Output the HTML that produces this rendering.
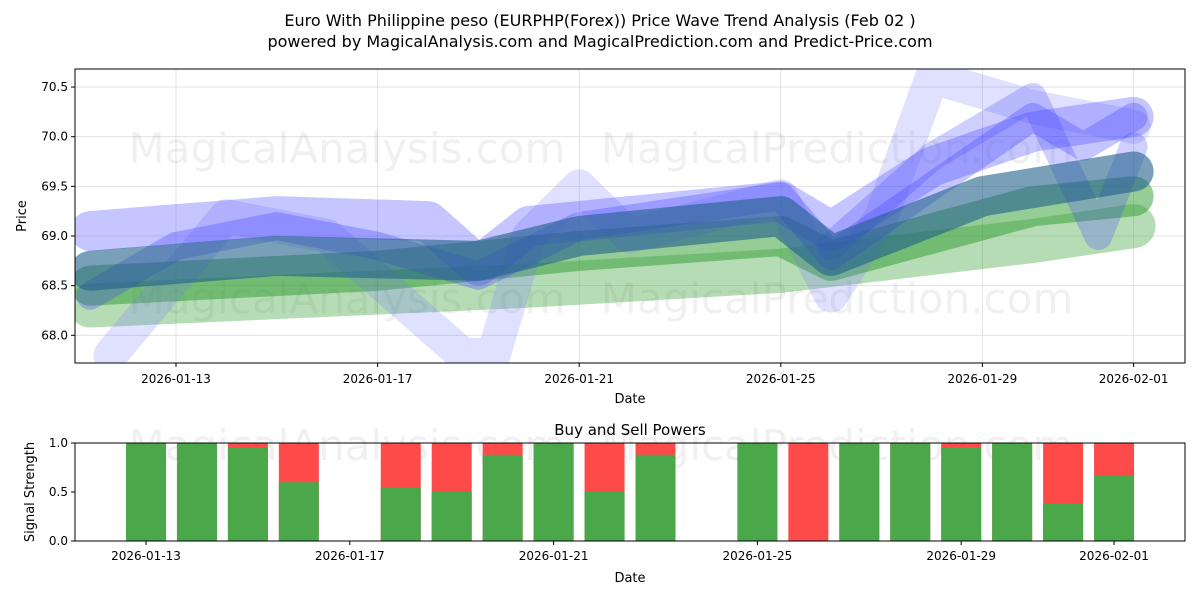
<!DOCTYPE html>
<html><head><meta charset="utf-8"><style>
body{margin:0;background:#fff;font-family:"Liberation Sans","DejaVu Sans",sans-serif}
svg text{font-family:"DejaVu Sans","Liberation Sans",sans-serif}
</style></head><body>
<svg id="c" width="1200" height="600" xmlns="http://www.w3.org/2000/svg">
<text x="600" y="26" text-anchor="middle" font-size="16">Euro With Philippine peso (EURPHP(Forex)) Price Wave Trend Analysis (Feb 02 )</text>
<text x="600" y="47" text-anchor="middle" font-size="16">powered by MagicalAnalysis.com and MagicalPrediction.com and Predict-Price.com</text>
<g id="topPanel"></g>
<g id="botPanel"></g>
</svg>
<script>
const tickDays=[13,17,21,25,29,32];
const tickLabels=["2026-01-13","2026-01-17","2026-01-21","2026-01-25","2026-01-29","2026-02-01"];
const priceTicks=[68.0,68.5,69.0,69.5,70.0,70.5];
const bandLightGreen=[[11.3,68.3],[20,68.5],[25,68.65],[30,68.95],[32,69.1]];
const bandGreen=[[11.3,68.5],[17,68.65],[21,68.85],[25,69.0],[26,68.75],[30,69.3],[32,69.4]];
const bandTeal=[[11.3,68.65],[15,68.8],[19,68.75],[21,69.0],[25,69.2],[26,68.8],[29,69.4],[32,69.65]];
const bandBlueWide=[[11.3,69.05],[15,69.2],[18,69.15],[19,68.7],[20,69.1],[25,69.35],[26,69.05],[28,69.7],[30,70.05],[32,70.2]];
const bandBlueSpiky=[[11.7,67.8],[14,69.2],[16,69.0],[18.7,67.8],[19.3,67.8],[20,69.0],[21,69.5],[22,69.0],[25,69.4],[26,68.4],[27,69.2],[28,70.6],[30,70.3],[32,70.1]];
const bandBlueMid=[[11.3,68.4],[13,68.9],[15,69.1],[17,68.9],[19,68.6],[21,69.1],[25,69.4],[26,68.8],[28,69.5],[30,70.2],[31,69.9],[32,70.2]];
const bandBlueLate=[[26,68.9],[28,69.8],[30,70.4],[31.3,69.0],[32,69.9]];
const barDays=[13,14,15,16,18,19,20,21,22,23,25,26,27,28,29,30,31,32];
const buyPower=[1,1,0.95,0.6,0.55,0.5,0.88,1,0.5,0.88,1,0,1,1,0.95,1,0.38,0.67];
const NS="http://www.w3.org/2000/svg";
const L=75,R=1185,T1=69,B1=363,T2=443,B2=541;
const xd=d=>176+(d-13)*50.4;
const xb=d=>146+(d-13)*50.95;
const yp=v=>236-(v-69.0)*99.3;
const ys=v=>B2-v*98;
function mk(p,tag,a){const e=document.createElementNS(NS,tag);for(const k in a)e.setAttribute(k,a[k]);p.appendChild(e);return e;}
const topG=document.getElementById('topPanel'),botG=document.getElementById('botPanel');
tickDays.forEach((d,i)=>{const g=mk(topG,'line',{x1:xd(d),x2:xd(d),y1:T1,y2:B1,stroke:'#ddd','stroke-width':0.8});

mk(topG,'line',{x1:xd(d),x2:xd(d),y1:B1,y2:B1+4,stroke:'#000'});
const t=mk(topG,'text',{x:xd(d),y:B1+20,'text-anchor':'middle','font-size':12});t.textContent=tickLabels[i];
});
priceTicks.forEach(v=>{const g=mk(topG,'line',{x1:L,x2:R,y1:yp(v),y2:yp(v),stroke:'#ddd','stroke-width':0.8});

mk(topG,'line',{x1:L-4,x2:L,y1:yp(v),y2:yp(v),stroke:'#000'});
const t=mk(topG,'text',{x:L-7,y:yp(v)+4,'text-anchor':'end','font-size':12});t.textContent=v.toFixed(1);
});
[[347,163],[837,163],[347,313],[837,313]].forEach((p,i)=>{const t=mk(topG,'text',{x:p[0],y:p[1],'text-anchor':'middle','font-size':42,fill:'#000','fill-opacity':0.06});
t.textContent=i%2?'MagicalPrediction.com':'MagicalAnalysis.com';});
const clip=mk(topG,'clipPath',{id:'cp'});mk(clip,'rect',{x:L,y:T1,width:R-L,height:B1-T1});
const bands=mk(topG,'g',{'clip-path':'url(#cp)'});
function band(arr,col,w,op,name){const pl=mk(bands,'polyline',{points:arr.map(p=>xd(p[0])+','+yp(p[1])).join(' '),fill:'none',stroke:col,'stroke-width':w,'stroke-opacity':op,'stroke-linecap':'round','stroke-linejoin':'round'});
}
band(bandLightGreen,'#2e9a2e',44,0.35,'band-light-green');
band(bandGreen,'#2e9a2e',40,0.5,'band-green');
band(bandBlueSpiky,'#7070ff',34,0.22,'band-blue-spiky');
band(bandBlueWide,'#5050ff',40,0.33,'band-blue-wide');
band(bandBlueMid,'#4040ff',28,0.3,'band-blue-mid');
band(bandBlueLate,'#4040ff',28,0.25,'band-blue-late');
band(bandTeal,'#1f5f8a',40,0.6,'band-teal');
mk(topG,'rect',{x:L,y:T1,width:R-L,height:B1-T1,fill:'none',stroke:'#000'});
let t=mk(topG,'text',{x:630,y:403,'text-anchor':'middle','font-size':13});t.textContent='Date';
t=mk(topG,'text',{x:26,y:216,'text-anchor':'middle','font-size':13,transform:'rotate(-90 26 216)'});t.textContent='Price';
t=mk(botG,'text',{x:630,y:435,'text-anchor':'middle','font-size':15});t.textContent='Buy and Sell Powers';
[[347,460],[837,460]].forEach((p,i)=>{const w=mk(botG,'text',{x:p[0],y:p[1],'text-anchor':'middle','font-size':42,fill:'#000','fill-opacity':0.06});w.textContent=i?'MagicalPrediction.com':'MagicalAnalysis.com';});
barDays.forEach((d,i)=>{const x=xb(d)-20,b=buyPower[i];
const r=mk(botG,'rect',{x:x,y:T2,width:40,height:B2-T2,fill:'#ff4a4a'});
const g=mk(botG,'rect',{x:x,y:ys(b),width:40,height:B2-ys(b),fill:'#4aa84a'});});
tickDays.forEach((d,i)=>{mk(botG,'line',{x1:xb(d),x2:xb(d),y1:B2,y2:B2+4,stroke:'#000'});
const tt=mk(botG,'text',{x:xb(d),y:B2+19,'text-anchor':'middle','font-size':12});tt.textContent=tickLabels[i];});
[0,0.5,1].forEach(v=>{mk(botG,'line',{x1:L-4,x2:L,y1:ys(v),y2:ys(v),stroke:'#000'});
const tt=mk(botG,'text',{x:L-7,y:ys(v)+4,'text-anchor':'end','font-size':12});tt.textContent=v.toFixed(1);});
mk(botG,'rect',{x:L,y:T2,width:R-L,height:B2-T2,fill:'none',stroke:'#000'});
t=mk(botG,'text',{x:630,y:582,'text-anchor':'middle','font-size':13});t.textContent='Date';
t=mk(botG,'text',{x:34,y:492,'text-anchor':'middle','font-size':13,transform:'rotate(-90 34 492)'});t.textContent='Signal Strength';
</script>
</body></html>
